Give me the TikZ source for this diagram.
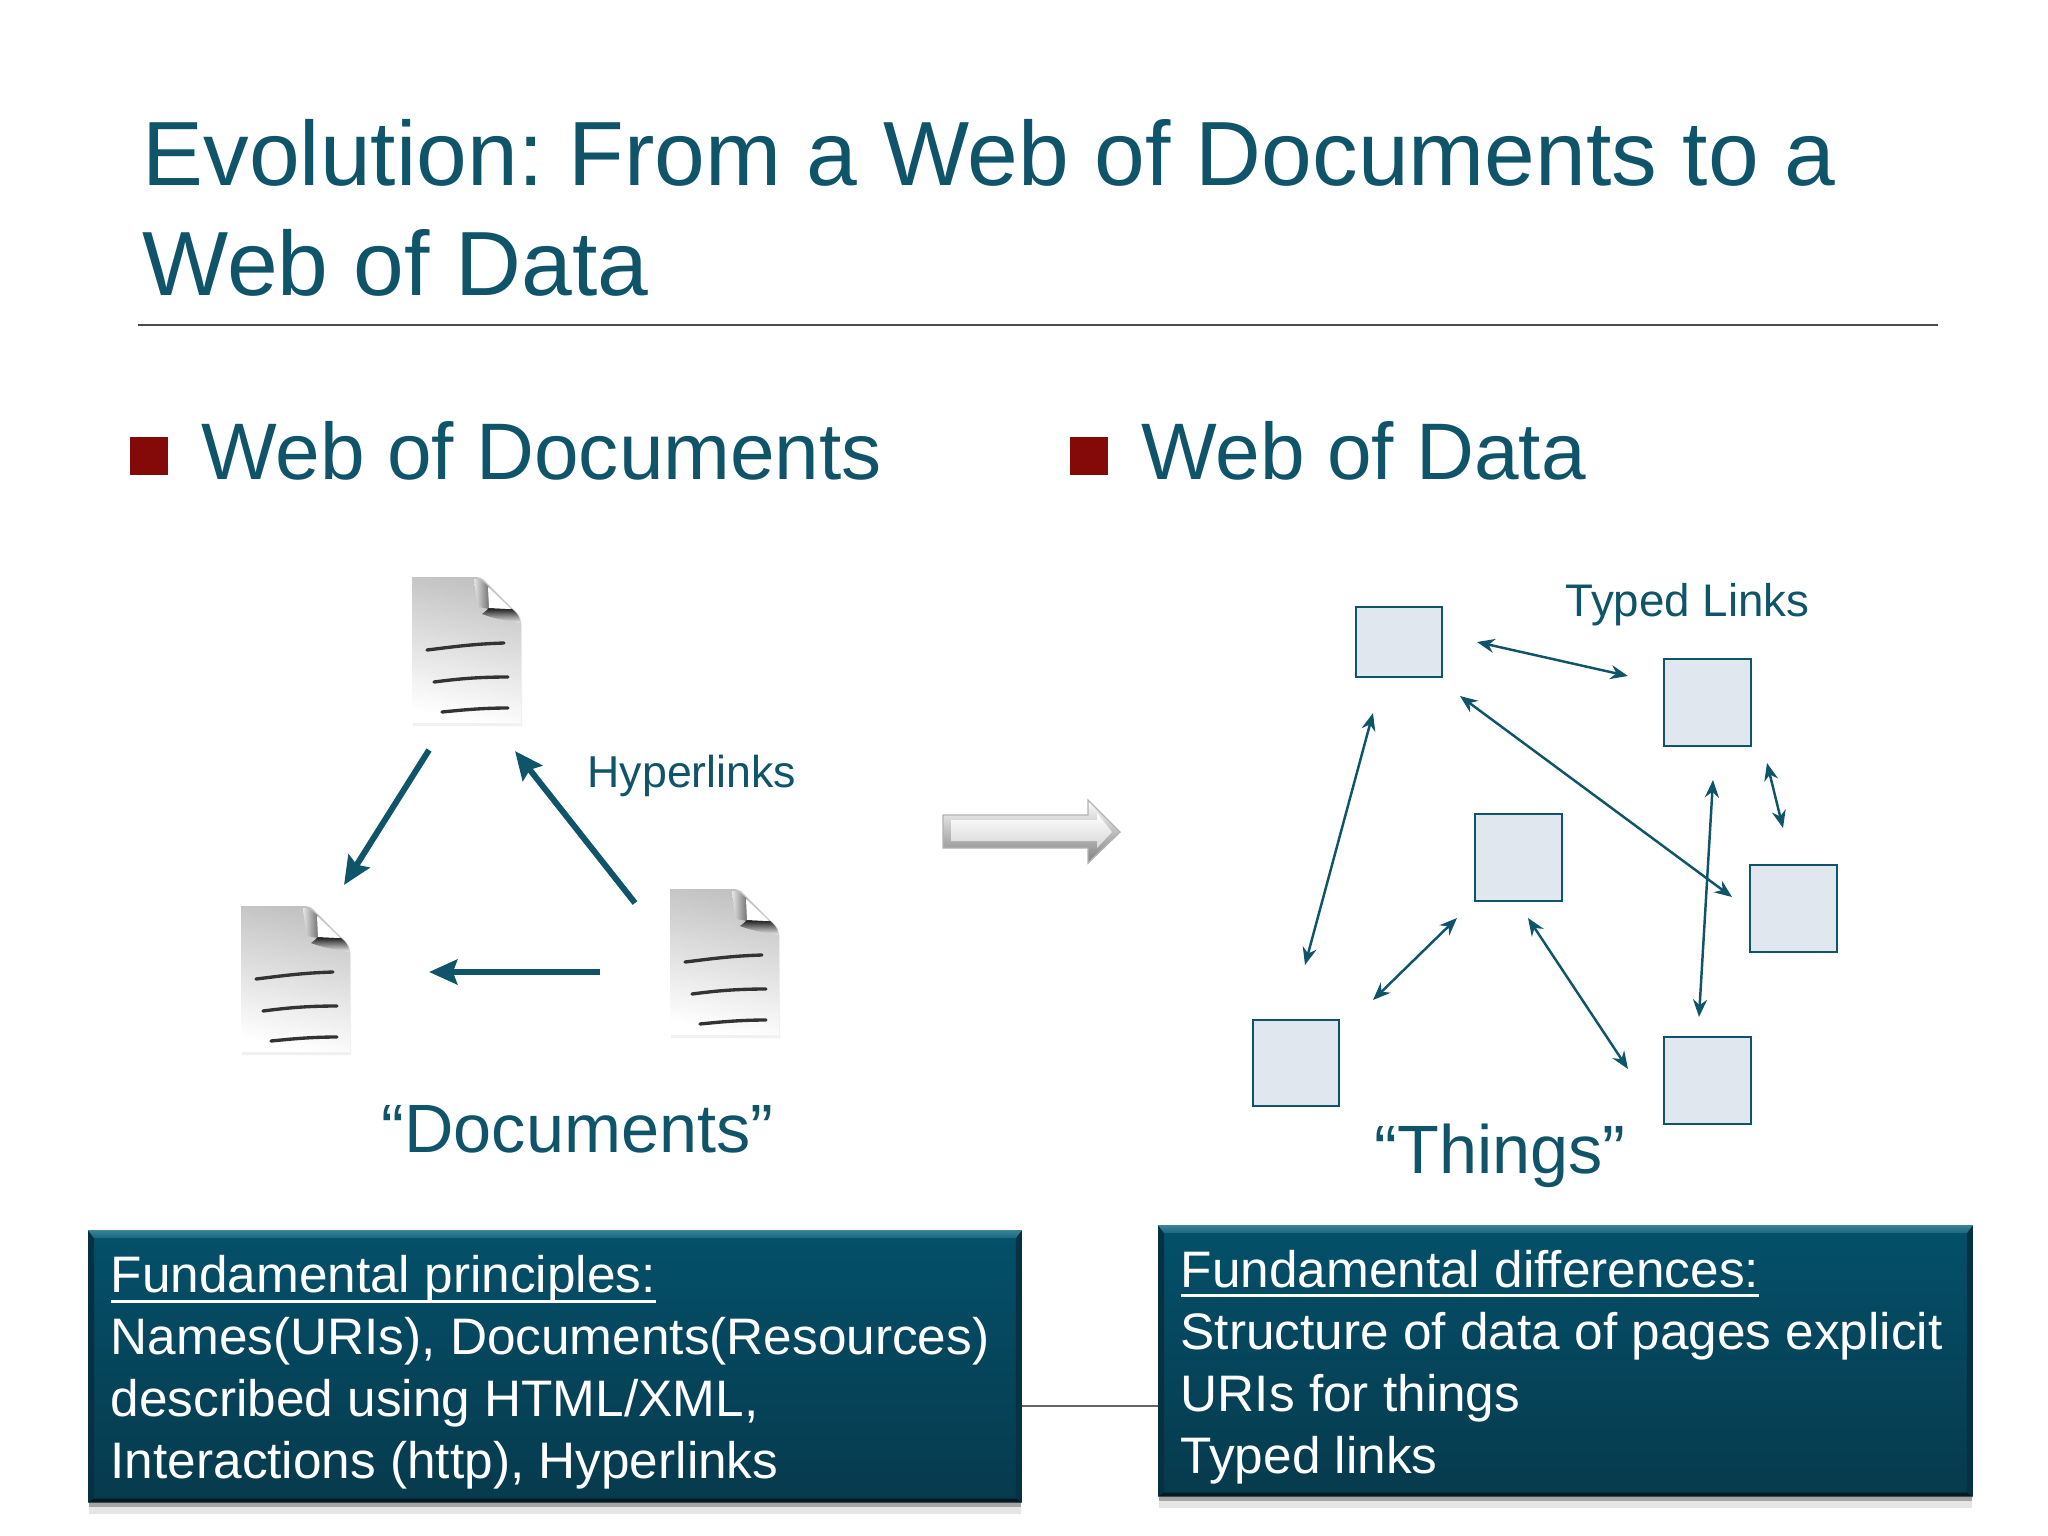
\documentclass[tikz,border=0pt]{standalone}
\usepackage{fontspec}
\usepackage{xcolor}
\usetikzlibrary{arrows.meta,shadows,calc}
\setmainfont{Liberation Sans}
\frenchspacing

\definecolor{teal1}{HTML}{0F5468}
\definecolor{boxtop}{HTML}{04506A}
\definecolor{boxbot}{HTML}{073A4D}
\definecolor{bevel}{HTML}{3A8399}
\definecolor{bullet}{HTML}{840A0A}
\definecolor{thingfill}{HTML}{E0E7EF}

\newcommand{\ulined}[1]{\leavevmode\rule{0pt}{14.1pt}\setbox0=\hbox{#1}\rlap{\rule[-2.8pt]{\wd0}{0.8pt}}\box0}
\newcommand{\boxedges}[1]{
        \fill[boxbot!85!black] (#1.north west) -- ++(6,8) -- ($(#1.south west)+(6,-4)$) -- (#1.south west) -- cycle;
        \fill[boxbot!85!black] (#1.north east) -- ++(-6,8) -- ($(#1.south east)+(-6,-4)$) -- (#1.south east) -- cycle;
        \fill[black!55!boxbot] (#1.south west) -- ++(6,-4) -- ($(#1.south east)+(-6,-4)$) -- (#1.south east) -- cycle;
        \shade[top color=bevel, bottom color=bevel!45!boxtop] (#1.north west) -- (#1.north east) -- ++(-6,8) -- ($(#1.north west)+(6,8)$) -- cycle;
}

\tikzset{
    heading/.style={anchor=base west, inner sep=0pt, text=teal1, font=\fontsize{22.8}{27}\selectfont},
    label/.style={anchor=base west, inner sep=0pt, text=teal1, font=\fontsize{13}{16}\selectfont},
    quoted/.style={anchor=base west, inner sep=0pt, text=teal1, font=\fontsize{19.45}{24}\selectfont},
    square/.style={fill=bullet, minimum size=38*0.2845pt, inner sep=0pt, anchor=north west},
    thing/.style={draw=teal1, line width=0.6pt, fill=thingfill, inner sep=0pt, anchor=north west},
    hyperlink/.style={draw=teal1, line width=1.7pt, -{Stealth[length=8pt,width=7pt,inset=1.2pt]}},
    typedlink/.style={draw=teal1, line width=0.7pt, {Stealth[length=5pt,width=4pt]}-{Stealth[length=5pt,width=4pt]}},
    infobox/.style={anchor=north west, inner xsep=22*0.2845pt, inner ysep=0pt, align=flush left,
        top color=boxtop, bottom color=boxbot, text=white,
        font=\fontsize{14.6}{17.62}\selectfont,
        drop shadow={shadow xshift=0pt, shadow yshift=-3.4pt, opacity=0.10, fill=black},
        drop shadow={shadow xshift=0pt, shadow yshift=-1.6pt, opacity=0.28, fill=black}},
    docpage/.pic={
        \fill[black!6] (0,3) -- (66,3) -- (110,46) -- (110,149) -- (1,149) -- cycle;
        \shade[top color=black!24, middle color=black!6, bottom color=white, shading angle=-12]
            (0,0) -- (62,0) .. controls (67,0) and (70,1) .. (73,4) -- (102,33)
            .. controls (107,37) and (109,41) .. (109,47) -- (109,146) -- (0,146) -- cycle;
        \shade[left color=black!10, right color=black!55]
            (62,2) .. controls (67,2) and (70,3) .. (77,10) -- (77,32) -- (66,30) .. controls (64,20) and (63,10) .. (62,2) -- cycle;
        \shade[top color=black!90, bottom color=black!6]
            (77,31) -- (100,32) .. controls (105,36) and (108,40) .. (108,46)
            .. controls (100,44) and (85,43) .. (70,37) .. controls (73,35) and (75,33) .. (77,31) -- cycle;
        \fill[white] (76,10) -- (99,32) -- (77,31) -- cycle;
        \draw[black!80, line width=0.95pt, line cap=round]
            (15,73) .. controls (40,70) and (60,67) .. (92,66)
            (22,105) .. controls (45,102) and (65,100) .. (96,100)
            (30,135) .. controls (50,133) and (70,131) .. (96,131);
    }
}

\begin{document}
\begin{tikzpicture}[x=0.01cm, y=-0.01cm]
        \useasboundingbox (0,0) rectangle (2048,1536);

        \node[anchor=base west, inner sep=0pt, align=left, text=teal1, font=\fontsize{25.95}{31}\selectfont] (title) at (142,295)
            {Evolution: From a Web of Documents to a\\Web of Data};
        \coordinate (ruleL) at (138,325);
        \coordinate (ruleR) at (1938,325);
        \draw[black!70, line width=0.5pt] (ruleL) -- (ruleR);

        \node[square] (bulletA) at (129,436) {};
        \node[square] (bulletB) at (1069,436) {};
        \node[heading] (webdocs) at (201,479) {Web of Documents};
        \node[heading] (webdata) at (1141,479) {Web of Data};

        \pic (doctop) at (412,577) {docpage};
        \pic (docleft) at (241,906) {docpage};
        \pic (docright) at (670,889) {docpage};

        \coordinate (h1a) at (429,750);
        \coordinate (h1b) at (344,885);
        \coordinate (h2a) at (635,903);
        \coordinate (h2b) at (515,751);
        \coordinate (h3a) at (600,972);
        \coordinate (h3b) at (429,972);
        \draw[hyperlink] (h1a) -- (h1b);
        \draw[hyperlink] (h2a) -- (h2b);
        \draw[hyperlink] (h3a) -- (h3b);

        \node[label, font=\fontsize{12.7}{16}\selectfont] (hyper) at (587,787) {Hyperlinks};
        \node[quoted] (docs) at (381,1152) {“Documents”};

        \shade[top color=white, bottom color=black!50, draw=black!30, line width=0.4pt]
            (943,815) -- (1088,815) -- (1088,800) -- (1120,832) -- (1088,863) -- (1088,848) -- (943,848) -- cycle;
        \shade[top color=white, bottom color=black!16]
            (951,820) -- (1097,820) -- (1097,813) -- (1112,832) -- (1097,848) -- (1097,841) -- (951,841) -- cycle;

        \node[thing, minimum width=86*0.2845pt, minimum height=70*0.2845pt] (t1) at (1355,606) {};
        \node[thing, minimum size=87*0.2845pt] (t2) at (1663,658) {};
        \node[thing, minimum size=87*0.2845pt] (t3) at (1474,813) {};
        \node[thing, minimum size=87*0.2845pt] (t4) at (1749,864) {};
        \node[thing, minimum size=86*0.2845pt] (t5) at (1252,1019) {};
        \node[thing, minimum size=87*0.2845pt] (t6) at (1663,1036) {};

        \coordinate (a1) at (1477,642);
        \coordinate (a2) at (1628,676);
        \coordinate (b1) at (1460,696);
        \coordinate (b2) at (1732,897);
        \coordinate (c1) at (1373,713);
        \coordinate (c2) at (1305,965);
        \coordinate (d1) at (1457,918);
        \coordinate (d2) at (1373,1000);
        \coordinate (e1) at (1528,918);
        \coordinate (e2) at (1628,1069);
        \coordinate (f1) at (1713,780);
        \coordinate (f2) at (1699,1017);
        \coordinate (g1) at (1767,763);
        \coordinate (g2) at (1783,828);
        \draw[typedlink] (a1) -- (a2);
        \draw[typedlink] (b1) -- (b2);
        \draw[typedlink] (c1) -- (c2);
        \draw[typedlink] (d1) -- (d2);
        \draw[typedlink] (e1) -- (e2);
        \draw[typedlink] (f1) -- (f2);
        \draw[typedlink] (g1) -- (g2);

        \node[label] (typed) at (1565,616) {Typed Links};
        \node[quoted] (things) at (1374,1173) {“Things”};

        \coordinate (joinL) at (1020,1406);
        \coordinate (joinR) at (1158,1406);
        \draw[black!60, line width=0.5pt] (joinL) -- (joinR);

        \node[infobox, minimum width=932*0.2845pt, minimum height=271*0.2845pt, text width=888*0.2845pt] (boxL) at (88,1230)
            {\ulined{Fundamental principles:}\\
             Names(URIs), Documents(Resources)\\
             described using HTML/XML,\\
             Interactions (http), Hyperlinks};
        \node[infobox, minimum width=813*0.2845pt, minimum height=270*0.2845pt, text width=769*0.2845pt] (boxR) at (1158,1225)
            {\ulined{Fundamental differences:}\\
             Structure of data of pages explicit\\
             URIs for things\\
             Typed links};

        \boxedges{boxL}
        \boxedges{boxR}
    \end{tikzpicture}
\end{document}
